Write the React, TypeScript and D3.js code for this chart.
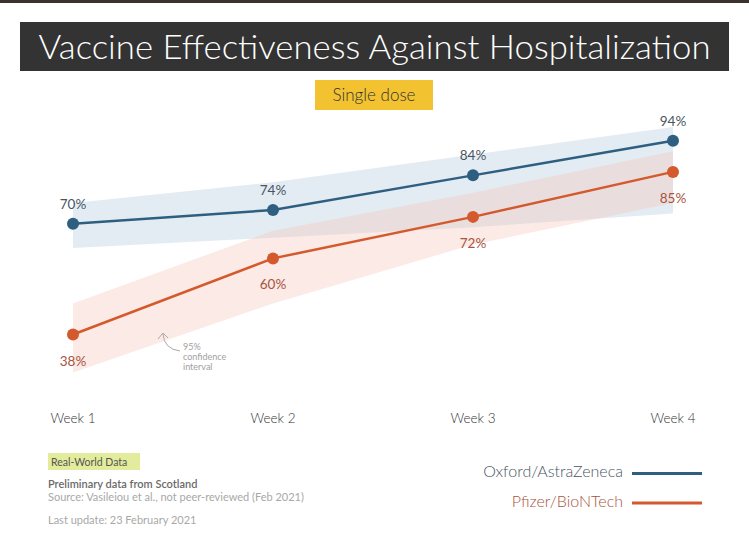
import * as d3 from "d3";

const weeks = ["Week 1", "Week 2", "Week 3", "Week 4"];
const oxford = [70, 74, 84, 94];
const oxfordLow = [63, 66, 69, 73];
const oxfordHigh = [76, 82, 90, 98];
const pfizer = [38, 60, 72, 85];
const pfizerLow = [27, 47, 64, 76];
const pfizerHigh = [47, 68, 79, 91];

const FONT = "Lato, 'Noto Sans', sans-serif";

const x = d3.scalePoint<string>().domain(weeks).range([73, 673]);
const y = d3.scaleLinear().domain([0, 100]).range([466, 120]);

const line = d3
  .line<number>()
  .x((_, i) => x(weeks[i])!)
  .y((d) => y(d));

const band = (lo: number[], hi: number[]) =>
  d3
    .area<number>()
    .x((_, i) => x(weeks[i])!)
    .y0((_, i) => y(lo[i]))
    .y1((_, i) => y(hi[i]))(lo)!;

const series = [
  { name: "Oxford/AstraZeneca", values: oxford, color: "#2e5f80", label: "#4a5561", above: true },
  { name: "Pfizer/BioNTech", values: pfizer, color: "#d4592c", label: "#a9533d", above: false },
];

export default function App() {
  return (
    <svg
      width={749}
      height={544}
      style={{ position: "absolute", left: 0, top: 0, background: "#fff", fontFamily: FONT }}
    >
      <rect x={0} y={0} width={749} height={3} fill="#3b3230" />

      {/* title */}
      <rect x={20} y={22} width={709} height={49} fill="#333333" />
      <text
        x={374.5}
        y={59}
        textAnchor="middle"
        fill="#fff"
        fontSize={33}
        fontWeight={300}
        textLength={672}
        lengthAdjust="spacingAndGlyphs"
      >
        Vaccine Effectiveness Against Hospitalization
      </text>

      <rect x={315} y={80} width={118} height={30} fill="#f2c230" />
      <text x={374} y={101} textAnchor="middle" fill="#333" fontSize={17} fontWeight={300}>
        Single dose
      </text>

      {/* confidence bands */}
      <path d={band(oxfordLow, oxfordHigh)} fill="#e4ecf3" />
      <path d={band(pfizerLow, pfizerHigh)} fill="#f4c4b4" fillOpacity={0.35} />

      {/* annotation */}
      <path
        d="M180,351 Q164,349 163,334 M158,339 L163,333 L168,338"
        fill="none"
        stroke="#a8a8a8"
        strokeWidth={1}
      />
      <g fill="#a0a0a0" fontSize={9}>
        <text x={183} y={350}>95%</text>
        <text x={183} y={360}>confidence</text>
        <text x={183} y={370}>interval</text>
      </g>

      {/* lines and points */}
      {series.map((s) => (
        <g key={s.name}>
          <path d={line(s.values)!} fill="none" stroke={s.color} strokeWidth={2.5} />
          {s.values.map((v, i) => (
            <g key={i}>
              <circle cx={x(weeks[i])} cy={y(v)} r={6} fill={s.color} />
              <text
                x={x(weeks[i])}
                y={s.above ? y(v) - 15 : y(v) + 31}
                textAnchor="middle"
                fill={s.label}
                fontSize={13.5}
              >
                {v}%
              </text>
            </g>
          ))}
        </g>
      ))}

      {/* x axis labels */}
      {weeks.map((w) => (
        <text key={w} x={x(w)} y={423} textAnchor="middle" fill="#333" fontSize={13.5} fontWeight={300}>
          {w}
        </text>
      ))}

      {/* footer */}
      <rect x={48} y={453} width={92} height={17} fill="#e3ec9c" />
      <text x={51} y={466} fill="#555" fontSize={10.5}>
        Real-World Data
      </text>
      <text x={48} y={488} fill="#6a6a6a" fontSize={11} fontWeight={600}>
        Preliminary data from Scotland
      </text>
      <text x={48} y={501} fill="#a8a8a8" fontSize={11}>
        Source: Vasileiou et al., not peer-reviewed (Feb 2021)
      </text>
      <text x={48} y={524} fill="#a8a8a8" fontSize={11}>
        Last update: 23 February 2021
      </text>

      {/* legend */}
      {series.map((s, i) => (
        <g key={s.name}>
          <text x={623} y={477 + i * 30} textAnchor="end" fill={s.label} fontSize={16} fontWeight={300}>
            {s.name}
          </text>
          <line x1={632} x2={702} y1={473.5 + i * 29.5} y2={473.5 + i * 29.5} stroke={s.color} strokeWidth={3} />
        </g>
      ))}
    </svg>
  );
}
